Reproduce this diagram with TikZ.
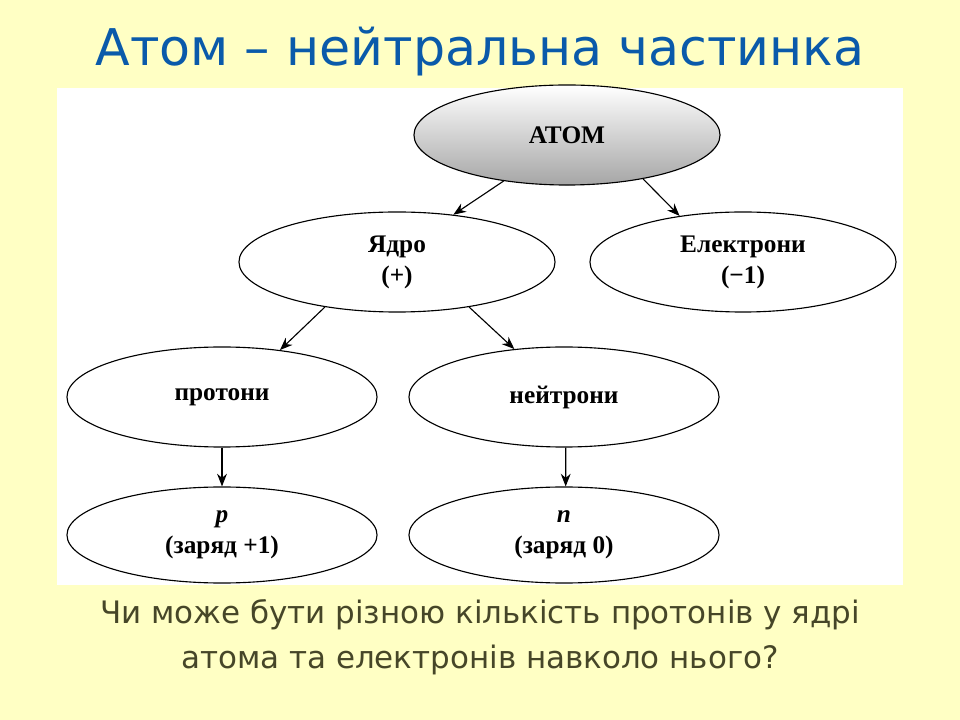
\documentclass[tikz,border=0pt]{standalone}
\usepackage{fontspec}
\setmainfont{Liberation Serif}
\newfontfamily\titlefont{DejaVu Sans}
\usetikzlibrary{shapes.geometric,arrows.meta}
\definecolor{slidebg}{RGB}{255,255,196}
\definecolor{titleblue}{RGB}{10,90,170}
\definecolor{qtext}{RGB}{70,70,40}
\begin{document}
\begin{tikzpicture}[x=0.025cm,y=-0.025cm,
    oval/.style={draw,thick,ellipse,inner sep=0pt,font=\bfseries\fontsize{18}{22}\selectfont,align=center},
    arr/.style={-{Stealth[length=9pt,width=7pt]},thick}]
    \fill[slidebg] (0,0) rectangle (960,720);
    \useasboundingbox (0,0) rectangle (960,720);
    \fill[white] (57,88) rectangle (903,585);
    \node[text=titleblue,font=\titlefont\fontsize{36}{40}\selectfont] (title) at (480,52) {Атом – нейтральна частинка};
    % ellipses
    \node[oval,top color=white,bottom color=gray!70,minimum width=7.65cm,minimum height=2.5cm] (atom) at (567,135) {АТОМ};
    \node[oval,minimum width=7.9cm,minimum height=2.5cm] (nucleus) at (397,262) {Ядро\\(+)};
    \node[oval,minimum width=7.65cm,minimum height=2.5cm] (electrons) at (743,262) {Електрони\\(\textminus1)};
    \node[oval,minimum width=7.75cm,minimum height=2.5cm] (protons) at (222,397) {протони};
    \node[oval,minimum width=7.75cm,minimum height=2.5cm] (neutrons) at (564,397) {нейтрони};
    \node[oval,minimum width=7.75cm,minimum height=2.4cm] (p) at (222,535) {\textit{p}\\(заряд +1)};
    \node[oval,minimum width=7.75cm,minimum height=2.4cm] (n) at (564,535) {\textit{n}\\(заряд 0)};
    % arrows
    \draw[arr] (atom.-144) -- (nucleus.40);
    \draw[arr] (atom.-30) -- (electrons.144);
    \draw[arr] (nucleus.-148) -- (protons.39);
    \draw[arr] (nucleus.-32) -- (neutrons.136);
    \draw[arr] (protons.south) -- (p.north);
    \draw[arr] (neutrons.-88) -- (n.88);
    \node[text=qtext,font=\titlefont\fontsize{22}{32}\selectfont,align=center] (question) at (480,637)
        {Чи може бути різною кількість протонів у ядрі\\атома та електронів навколо нього?};
\end{tikzpicture}
\end{document}
